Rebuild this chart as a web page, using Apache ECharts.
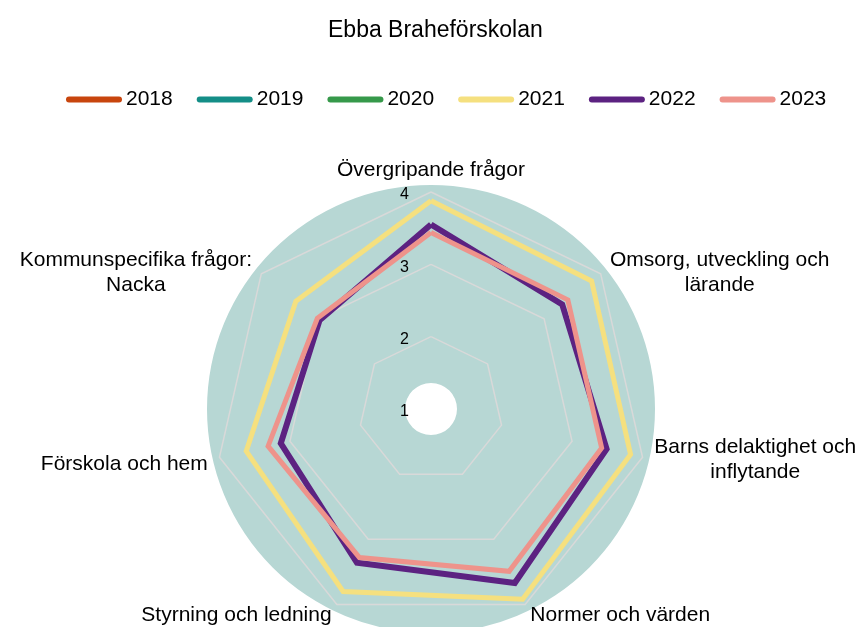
<!DOCTYPE html>
<html><head><meta charset="utf-8">
<script src="https://cdn.jsdelivr.net/npm/echarts@6/dist/echarts.min.js"></script>
<style>html,body{margin:0;padding:0;background:#fff}#c{width:863px;height:627px}</style>
</head><body><div id="c"></div>
<script>
const titleText = 'Ebba Braheförskolan';
// Indicators in clockwise order starting from the top
const indicators = [
  'Övergripande frågor',
  'Omsorg, utveckling och\nlärande',
  'Barns delaktighet och\ninflytande',
  'Normer och värden',
  'Styrning och ledning',
  'Förskola och hem',
  'Kommunspecifika frågor:\nNacka'
];
const years = ['2018', '2019', '2020', '2021', '2022', '2023'];
const colors = ['#c8450d', '#148e87', '#36994a', '#f5e07f', '#5c2281', '#ee938b'];
const values2018 = [];
const values2019 = [];
const values2020 = [];
const values2021 = [3.88, 3.84, 3.83, 3.92, 3.80, 3.62, 3.39];
const values2022 = [3.55, 3.32, 3.49, 3.67, 3.36, 3.13, 2.97];
const values2023 = [3.44, 3.42, 3.42, 3.49, 3.28, 3.31, 3.01];
const tickLabels = ['1', '2', '3', '4'];
const axisMin = 1, axisMax = 4;

const seriesValues = [values2018, values2019, values2020, values2021, values2022, values2023];
const F = '"Liberation Sans", Arial, sans-serif';
// ECharts radar runs counter-clockwise: reorder to get a clockwise layout
const order = [0, 6, 5, 4, 3, 2, 1];
const reorder = arr => order.map(i => arr[i]);
// per-label spacer (vertical nudge) styles, by clockwise index
const spacer = [null, 'sp12', null, null, null, 'sp8', 'sp12'];

const txt = { color: '#000', fontSize: 21, fontFamily: F };
const chart = echarts.init(document.getElementById('c'));
chart.setOption({
  animation: false,
  title: {
    text: titleText, left: 323, top: 14,
    textStyle: { fontSize: 23, fontWeight: 'normal', color: '#000', fontFamily: F }
  },
  legend: {
    data: years.map(y => ({ name: y, icon: 'path://M3,0 H53 A3,3 0 0 1 53,6 H3 A3,3 0 0 1 3,0 Z' })),
    left: 61, top: 84, itemWidth: 56, itemHeight: 6, itemGap: 24, selectedMode: false,
    textStyle: { fontSize: 21, color: '#000', fontFamily: F, padding: [0, 0, 0, -1] }
  },
  radar: {
    center: [431, 409], radius: 217, startAngle: 90, splitNumber: 3, shape: 'polygon',
    nameGap: 12,
    indicator: reorder(indicators).map((n, k) => {
      const o = { name: n, min: axisMin, max: axisMax };
      if (k === 0) {
        o.axisLabel = {
          show: true, margin: 22, fontSize: 16, color: '#000', fontFamily: F,
          formatter: v => '{a|' + tickLabels[Math.round(v) - axisMin] + '}',
          rich: { a: { fontSize: 16, color: '#000', fontFamily: F, lineHeight: 18, padding: [6, 0, 0, 0] } }
        };
      }
      return o;
    }),
    axisName: Object.assign({}, txt, {
      lineHeight: 25,
      formatter: name => {
        const idx = indicators.indexOf(name);
        if (idx === 0) return '{t|' + name + '}';
        const lines = name.split('\n').map(l => '{c|' + l + '}');
        if (spacer[idx]) lines.unshift('{' + spacer[idx] + '| }');
        return lines.join('\n');
      },
      rich: {
        c: Object.assign({ align: 'center', lineHeight: 25 }, txt),
        t: Object.assign({ align: 'center', lineHeight: 13 }, txt),
        sp12: { fontSize: 4, lineHeight: 12 },
        sp8: { fontSize: 4, lineHeight: 8 }
      }
    }),
    axisLine: { show: false },
    axisTick: { show: false },
    axisLabel: { show: false },
    splitLine: { lineStyle: { color: '#d9d9d9', width: 1.5 } },
    splitArea: { show: false }
  },
  series: [
    {
      type: 'pie', center: [431, 409], radius: [26, 224], silent: true, z: -1,
      label: { show: false }, labelLine: { show: false }, emphasis: { disabled: true },
      data: [{ value: 1, itemStyle: { color: '#b7d7d4' } }]
    }
  ].concat(years.map((y, i) => ({
    type: 'radar', name: y, symbol: 'none', silent: true,
    color: colors[i],
    itemStyle: { color: colors[i] },
    lineStyle: { width: y === '2022' ? 6 : 5, color: colors[i], join: 'miter' },
    data: [{ name: y, value: seriesValues[i].length ? reorder(seriesValues[i]) : [] }]
  })))
});
</script></body></html>
